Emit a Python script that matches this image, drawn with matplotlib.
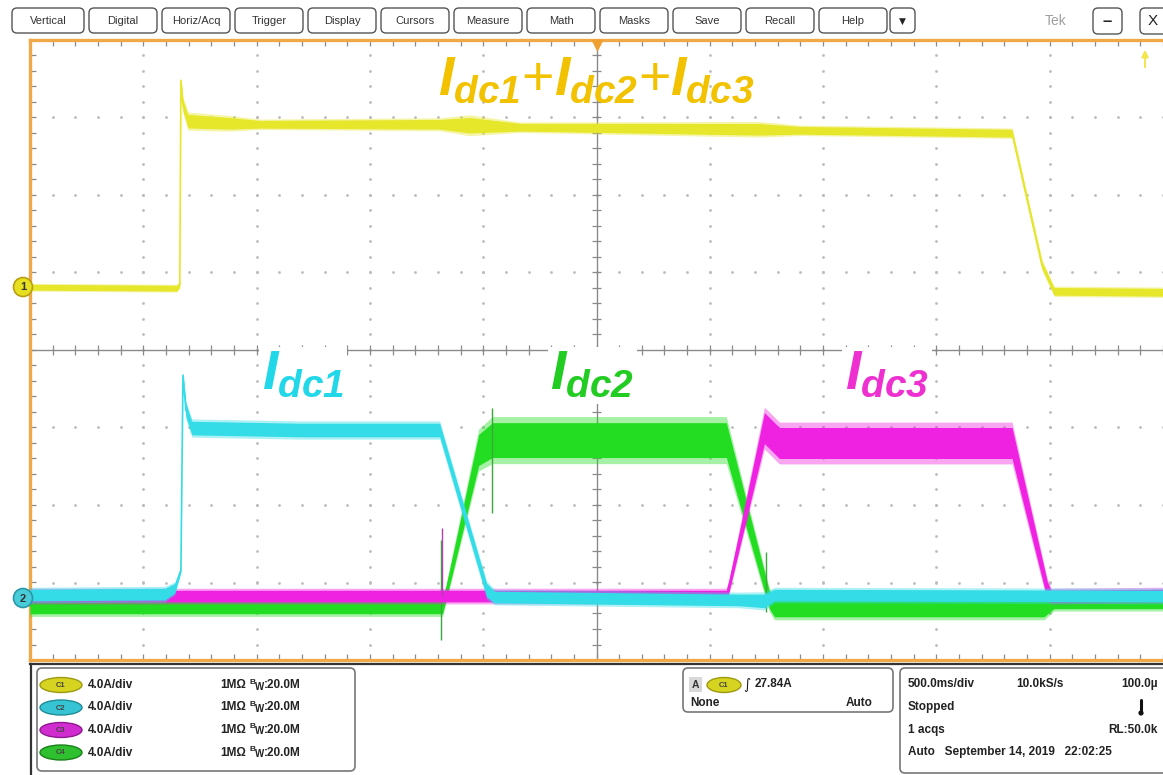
import numpy as np
import matplotlib.pyplot as plt
from matplotlib.patches import FancyBboxPatch, Circle, Ellipse, Rectangle

plt.rcParams['font.family'] = ['Liberation Sans', 'DejaVu Sans']
plt.rcParams['mathtext.fontset'] = 'custom'
plt.rcParams['mathtext.rm'] = 'Liberation Sans:italic:bold'
plt.rcParams['mathtext.it'] = 'Liberation Sans:italic:bold'
plt.rcParams['mathtext.bf'] = 'Liberation Sans:italic:bold'

AMPS_PER_DIV = 4.0
SEC_PER_DIV = 0.5

# channel ground markers, in divisions from screen centre
c1_ground = 0.81
c234_ground = -3.2

# waveform vertices: time (s), current (A), half-width of the noise band (A)
c1_t = [-2.5, -1.852, -1.839, -1.834, -1.825, -1.803, -1.618, -1.486, -0.692, -0.560,
        -0.339, 0.719, 0.895, 1.834, 1.966, 2.019, 2.5]
c1_i = [0.0, -0.05, 0.15, 10.68, 9.39, 8.57, 8.46, 8.41, 8.41, 8.36,
        8.26, 8.15, 8.10, 7.95, 1.14, -0.21, -0.26]
c1_n = [0.15, 0.15, 0.15, 0.1, 0.3, 0.35, 0.3, 0.2, 0.25, 0.4,
        0.2, 0.3, 0.2, 0.2, 0.2, 0.2, 0.2]

c2_t = [-2.5, -1.905, -1.861, -1.834, -1.825, -1.812, -1.786, -1.310, -0.692, -0.485,
        -0.450, 0.630, 0.741, 0.785, 2.5]
c2_i = [0.15, 0.2, 0.5, 1.45, 11.5, 9.7, 8.77, 8.67, 8.67, 0.41,
        0.05, -0.1, -0.15, 0.15, 0.1]
c2_n = [0.3, 0.3, 0.25, 0.1, 0.1, 0.35, 0.35, 0.35, 0.35, 0.35,
        0.3, 0.3, 0.35, 0.3, 0.3]

c3_t = [-2.5, 0.573, 0.586, 0.741, 0.807, 1.834, 1.989, 2.006, 2.5]
c3_i = [0.1, 0.1, 0.67, 8.77, 8.0, 8.0, 0.41, 0.1, 0.15]
c3_n = [0.3, 0.3, 0.3, 0.8, 0.8, 0.8, 0.45, 0.3, 0.3]

c4_t = [-2.5, -0.679, -0.666, -0.520, -0.459, 0.013, 0.573, 0.763, 0.785, 1.975, 2.019, 2.5]
c4_i = [-0.41, -0.41, 0.15, 7.64, 8.15, 8.15, 8.15, -0.1, -0.52, -0.52, -0.2, -0.2]
c4_n = [0.4, 0.4, 0.35, 0.8, 0.9, 0.9, 0.9, 0.45, 0.45, 0.45, 0.35, 0.35]

# switching glitches: time (s), low (A), high (A)
c3_glitch = [(-0.682, 0.1, 3.6)]
c4_glitch = [(-0.686, -2.17, 3.0), (-0.459, 4.39, 9.8), (0.750, -0.72, 2.37)]

menu = ['Vertical', 'Digital', 'Horiz/Acq', 'Trigger', 'Display', 'Cursors',
        'Measure', 'Math', 'Masks', 'Save', 'Recall', 'Help']
chan_names = ['C1', 'C2', 'C3', 'C4']
chan_scale = ['4.0A/div'] * 4
trig_level = '27.84A'

yel, cya, mag, grn = '#E6E62A', '#33DCE6', '#EE22E0', '#22DD22'
orange = '#F0A848'

W, H = 1163, 775
fig = plt.figure(figsize=(W / 100, H / 100), dpi=100)
fig.patch.set_facecolor('white')

# graticule
ax = fig.add_axes([30 / W, 1 - 660 / H, (W - 30) / W, 620 / H])
ax.set_zorder(1)
ax.set_xlim(-5 * SEC_PER_DIV, 5 * SEC_PER_DIV)
ax.set_ylim(-4, 4)
ax.set_xticks([])
ax.set_yticks([])
for s in ['left', 'top', 'bottom']:
    ax.spines[s].set_color(orange)
    ax.spines[s].set_linewidth(2.4)
ax.spines['right'].set_visible(False)

gx = np.arange(-2.5, 2.5001, 0.1)
gy = np.arange(-4, 4.001, 0.2)
for k in range(-4, 5):
    if k == 0:
        continue
    xv = k * SEC_PER_DIV
    ax.plot(np.full(gy.size, xv), gy, ls='none', marker='.', ms=2.0, color='#bcbcbc', zorder=1)
for k in range(-3, 4):
    if k == 0:
        continue
    ax.plot(gx, np.full(gx.size, k), ls='none', marker='.', ms=2.0, color='#bcbcbc', zorder=1)

ax.axhline(0, color='#8a8a8a', lw=1.0, zorder=1)
ax.axvline(0, color='#8a8a8a', lw=1.0, zorder=1)
ax.vlines(gx, -0.06, 0.06, color='#8a8a8a', lw=0.9, zorder=1)
ax.hlines(gy, -0.022, 0.022, color='#8a8a8a', lw=0.9, zorder=1)
ax.vlines(gx, 4 - 0.08, 4, color='#8a8a8a', lw=0.9, zorder=1)
ax.vlines(gx, -4, -4 + 0.08, color='#8a8a8a', lw=0.9, zorder=1)
ax.hlines(gy, -2.5, -2.5 + 0.026, color='#8a8a8a', lw=0.9, zorder=1)


def draw_trace(t, amps, noise, ground, color, z):
    t = np.asarray(t)
    y = np.asarray(amps) / AMPS_PER_DIV + ground
    h = np.asarray(noise) / AMPS_PER_DIV
    # faint outer fringe, then the dense core of the noise band
    ax.fill_between(t, y - 1.35 * h, y + 1.35 * h, color=color, alpha=0.4, lw=0, zorder=z)
    ax.fill_between(t, y - h, y + h, color=color, lw=0, zorder=z)
    ax.plot(t, y, color=color, lw=1.2, zorder=z)


def draw_glitches(glitches, ground, color, z):
    for t, lo, hi in glitches:
        ax.vlines(t, lo / AMPS_PER_DIV + ground, hi / AMPS_PER_DIV + ground,
                  color=color, lw=1.0, zorder=z)


draw_trace(c1_t, c1_i, c1_n, c1_ground, yel, 3)
draw_trace(c4_t, c4_i, c4_n, c234_ground, grn, 3)
draw_glitches(c4_glitch, c234_ground, '#3aa83a', 3)
draw_trace(c3_t, c3_i, c3_n, c234_ground, mag, 4)
draw_glitches(c3_glitch, c234_ground, '#b040b0', 4)
draw_trace(c2_t, c2_i, c2_n, c234_ground, cya, 5)

ax.text(0.0, 3.47, r'$I_{dc1}$+$I_{dc2}$+$I_{dc3}$', color='#F2C200', fontsize=40,
        ha='center', va='center', zorder=6)
lab_box = dict(facecolor='white', edgecolor='none', pad=2)
ax.text(-1.296, -0.33, r'$I_{dc1}$', color='#22D8E8', fontsize=40, ha='center',
        va='center', zorder=6, bbox=lab_box)
ax.text(-0.018, -0.33, r'$I_{dc2}$', color='#22CC22', fontsize=40, ha='center',
        va='center', zorder=6, bbox=lab_box)
ax.text(1.283, -0.33, r'$I_{dc3}$', color='#EE30D0', fontsize=40, ha='center',
        va='center', zorder=6, bbox=lab_box)

# instrument chrome, in pixel coordinates
ui = fig.add_axes([0, 0, 1, 1])
ui.set_zorder(2)
ui.set_xlim(0, W)
ui.set_ylim(H, 0)
ui.axis('off')


def rbox(x0, y0, x1, y1, ec='#555555', lw=1.0, r=5, fc='white'):
    ui.add_patch(FancyBboxPatch((x0, y0), x1 - x0, y1 - y0,
                                boxstyle='round,pad=0,rounding_size=%d' % r,
                                fc=fc, ec=ec, lw=lw))


bx = 12
for name in menu:
    w = 72 if name == 'Vertical' else 68
    rbox(bx, 8, bx + w, 33)
    ui.text(bx + w / 2, 21, name, ha='center', va='center', fontsize=8, color='#333333')
    bx += w + 5
rbox(890, 8, 915, 33)
ui.text(902.5, 21, '▼', ha='center', va='center', fontsize=6.5, color='#222222',
        family='DejaVu Sans')
ui.text(1056, 21, 'Tek', ha='center', va='center', fontsize=10, color='#a0a0a0')
rbox(1093, 8, 1122, 34)
ui.text(1107.5, 22, '–', ha='center', va='center', fontsize=12, color='#222222',
        fontweight='bold')
rbox(1140, 8, 1172, 34)
ui.text(1153, 21, 'X', ha='center', va='center', fontsize=11, color='#222222')

# trigger position and level markers
ui.plot([597], [45], marker='v', ms=7, color='#F0A030', ls='none')
ui.annotate('', xy=(1145, 47), xytext=(1145, 70),
            arrowprops=dict(arrowstyle='-|>', color='#F2E64A', lw=1.4))

for cy, fc, ec, txt in [(287, '#E6E020', '#B8A010', '1'), (598, '#48CCDA', '#2A98A8', '2')]:
    ui.add_patch(Circle((23, cy), 9.5, fc=fc, ec=ec, lw=1.2))
    ui.text(23, cy + 0.5, txt, ha='center', va='center', fontsize=8, fontweight='bold',
            color='#333333')

# status bar
ui.plot([30, W], [664, 664], color='#333333', lw=1.6)
ui.plot([31, 31], [664, H], color='#333333', lw=1.6)

rbox(37, 668, 355, 771, ec='#777777', lw=1.2)
badge = [('#D6D420', '#9C9A10'), ('#36C4D4', '#1E8C98'), ('#D02CD0', '#901890'),
         ('#2EC02E', '#1A801A')]
for k, (nm, sc) in enumerate(zip(chan_names, chan_scale)):
    y = 685 + k * 22.5
    ui.add_patch(Ellipse((61, y), 42, 15, fc=badge[k][0], ec=badge[k][1], lw=1.0))
    ui.text(61, y + 0.5, nm, ha='center', va='center', fontsize=5.5, color='#444444',
            fontweight='bold')
    ui.text(88, y, sc, ha='left', va='center', fontsize=8.5, fontweight='bold', color='#222222')
    ui.text(220, y, '1MΩ', ha='left', va='center', fontsize=8.5, fontweight='bold',
            color='#222222')
    ui.text(249, y - 3, 'B', ha='left', va='center', fontsize=6, fontweight='bold',
            color='#222222')
    ui.text(255, y + 1.5, 'W', ha='left', va='center', fontsize=7, fontweight='bold',
            color='#222222')
    ui.text(264, y, ':20.0M', ha='left', va='center', fontsize=8.5, fontweight='bold',
            color='#222222')

rbox(683, 668, 893, 712, ec='#777777', lw=1.2)
ui.add_patch(Rectangle((689, 677), 13, 15, fc='#d8d8d8', ec='none'))
ui.text(695.5, 684.5, 'A', ha='center', va='center', fontsize=7.5, fontweight='bold',
        color='#333333')
ui.add_patch(Ellipse((724, 685), 34, 15, fc=badge[0][0], ec=badge[0][1], lw=1.0))
ui.text(724, 685.5, 'C1', ha='center', va='center', fontsize=5.5, color='#444444',
        fontweight='bold')
ui.text(743, 685, '∫', ha='left', va='center', fontsize=10, color='#222222',
        family='DejaVu Sans')
ui.text(755, 684, trig_level, ha='left', va='center', fontsize=8.5, fontweight='bold',
        color='#222222')
ui.text(690, 703, 'None', ha='left', va='center', fontsize=8.5, fontweight='bold',
        color='#222222')
ui.text(873, 703, 'Auto', ha='right', va='center', fontsize=8.5, fontweight='bold',
        color='#222222')

rbox(900, 668, 1172, 773, ec='#777777', lw=1.2)
ui.text(908, 684, '500.0ms/div', ha='left', va='center', fontsize=8.5, fontweight='bold',
        color='#222222')
ui.text(1016, 684, '10.0kS/s', ha='left', va='center', fontsize=8.5, fontweight='bold',
        color='#222222')
ui.text(1158, 684, '100.0µ', ha='right', va='center', fontsize=8.5, fontweight='bold',
        color='#222222')
ui.text(908, 707, 'Stopped', ha='left', va='center', fontsize=8.5, fontweight='bold',
        color='#222222')
ui.plot([1141, 1141], [700, 711], color='#111111', lw=2.2, solid_capstyle='round')
ui.add_patch(Circle((1141, 713), 2.6, fc='#111111', ec='none'))
ui.text(908, 730, '1 acqs', ha='left', va='center', fontsize=8.5, fontweight='bold',
        color='#222222')
ui.text(1158, 730, 'RL:50.0k', ha='right', va='center', fontsize=8.5, fontweight='bold',
        color='#222222')
ui.text(908, 752, 'Auto   September 14, 2019   22:02:25', ha='left', va='center',
        fontsize=8.5, fontweight='bold', color='#222222')

fig.savefig('out.png', dpi=100, facecolor='white')
